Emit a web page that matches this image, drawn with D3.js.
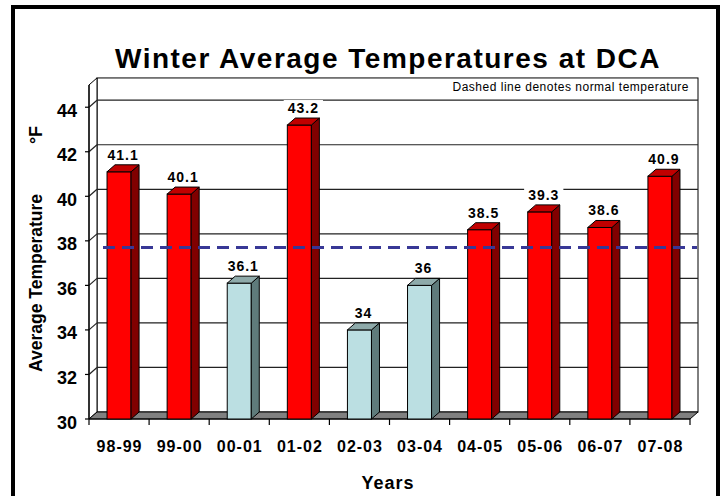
<!DOCTYPE html>
<html>
<head>
<meta charset="utf-8">
<script src="https://cdn.jsdelivr.net/npm/d3@7"></script>
<style>
  html, body { margin: 0; padding: 0; background: #fff; }
  svg { display: block; font-family: "Liberation Sans", Arial, sans-serif; }
</style>
</head>
<body>
<svg class="chart" width="721" height="496"></svg>
<script>
// data
var seasons = ["98-99", "99-00", "00-01", "01-02", "02-03", "03-04", "04-05", "05-06", "06-07", "07-08"];
var temps = [41.1, 40.1, 36.1, 43.2, 34, 36, 38.5, 39.3, 38.6, 40.9];
var normalTemp = 37.7;
var yTicks = [30, 32, 34, 36, 38, 40, 42, 44];

var svg = d3.select(".chart");

// 3d depth offset
var dx = 8, dy = -7;
var left = 89, right = 690, bottom = 419;

var x = d3.scaleBand()
  .domain(seasons)
  .range([left, right])
  .paddingInner(0.6)
  .paddingOuter(0.3);

var y = d3.scaleLinear()
  .domain([30, 45])
  .range([bottom, bottom - 15 * 22.27]);

// outer frame
svg.append("rect")
  .attr("x", 13).attr("y", 7)
  .attr("width", 705).attr("height", 520)
  .attr("fill", "none")
  .attr("stroke", "#000")
  .attr("stroke-width", 4);

// title
svg.append("text")
  .attr("x", 388).attr("y", 68)
  .attr("text-anchor", "middle")
  .attr("font-size", 28)
  .attr("font-weight", "bold")
  .attr("letter-spacing", 1.5)
  .text("Winter Average Temperatures at DCA");

var plot = svg.append("g");

// back wall
plot.append("rect")
  .attr("x", left + dx).attr("y", y(45) + dy)
  .attr("width", right - left).attr("height", y(30) - y(45))
  .attr("fill", "#fff")
  .attr("stroke", "#000")
  .attr("stroke-width", 1);

// left side wall
plot.append("path")
  .attr("d", "M" + [left, y(30)] + "L" + [left, y(45)] + "L" + [left + dx, y(45) + dy] + "L" + [left + dx, y(30) + dy] + "Z")
  .attr("fill", "#fff")
  .attr("stroke", "#000")
  .attr("stroke-width", 1);

// gridlines on back wall and side wall
yTicks.forEach(function (t) {
  if (t === 30) return;
  plot.append("line")
    .attr("x1", left + dx).attr("x2", right + dx)
    .attr("y1", y(t) + dy).attr("y2", y(t) + dy)
    .attr("stroke", "#222").attr("stroke-width", 1.2);
  plot.append("line")
    .attr("x1", left).attr("x2", left + dx)
    .attr("y1", y(t)).attr("y2", y(t) + dy)
    .attr("stroke", "#222").attr("stroke-width", 1.2);
});

// floor
plot.append("path")
  .attr("d", "M" + [left, y(30)] + "L" + [right, y(30)] + "L" + [right + dx, y(30) + dy] + "L" + [left + dx, y(30) + dy] + "Z")
  .attr("fill", "#808080")
  .attr("stroke", "#000")
  .attr("stroke-width", 1);

// front axis line + ticks
plot.append("line")
  .attr("x1", left).attr("x2", left)
  .attr("y1", y(45)).attr("y2", y(30))
  .attr("stroke", "#000").attr("stroke-width", 1.2);

plot.selectAll(".ytick")
  .data(yTicks)
  .enter().append("line")
  .attr("x1", left - 4).attr("x2", left)
  .attr("y1", function (d) { return y(d); })
  .attr("y2", function (d) { return y(d); })
  .attr("stroke", "#000").attr("stroke-width", 1.2);

plot.append("line")
  .attr("x1", left).attr("x2", right)
  .attr("y1", bottom).attr("y2", bottom)
  .attr("stroke", "#000").attr("stroke-width", 1.2);

var xTickPos = seasons.map(function (s) { return x(s) - x.step() * 0.3; }).concat([right]);
plot.selectAll(".xtick")
  .data(xTickPos)
  .enter().append("line")
  .attr("x1", function (d) { return d; })
  .attr("x2", function (d) { return d; })
  .attr("y1", bottom).attr("y2", bottom + 6)
  .attr("stroke", "#000").attr("stroke-width", 1.2);

// y tick labels
svg.selectAll(".ylab")
  .data(yTicks)
  .enter().append("text")
  .attr("x", 77)
  .attr("y", function (d) { return y(d) + 9.5; })
  .attr("text-anchor", "end")
  .attr("font-size", 18)
  .attr("font-weight", "bold")
  .text(function (d) { return d; });

// x labels
svg.selectAll(".xlab")
  .data(seasons)
  .enter().append("text")
  .attr("x", function (d) { return x(d) + x.bandwidth() / 2 + 0.5; })
  .attr("y", 452)
  .attr("text-anchor", "middle")
  .attr("font-size", 16)
  .attr("font-weight", "bold")
  .attr("letter-spacing", 1)
  .text(function (d) { return d; });

// bars
var barData = seasons.map(function (s, i) { return {season: s, value: temps[i]}; });
function colorsFor(v) {
  return v < normalTemp
    ? {front: "#BBDFE2", side: "#5F7B7B", top: "#8EAAAA"}
    : {front: "#FF0000", side: "#800000", top: "#C00000"};
}

var bars = plot.selectAll(".bar")
  .data(barData)
  .enter().append("g")
  .attr("class", "bar");

bars.each(function (d) {
  var g = d3.select(this);
  var c = colorsFor(d.value);
  var x0 = x(d.season), x1 = x0 + x.bandwidth();
  var yt = y(d.value), yb = y(30);
  g.append("rect")
    .attr("x", x0).attr("y", yt)
    .attr("width", x1 - x0).attr("height", yb - yt)
    .attr("fill", c.front).attr("stroke", "#000").attr("stroke-width", 1);
  g.append("path")
    .attr("d", "M" + [x1, yb] + "L" + [x1, yt] + "L" + [x1 + dx, yt + dy] + "L" + [x1 + dx, yb + dy] + "Z")
    .attr("fill", c.side).attr("stroke", "#000").attr("stroke-width", 1);
  g.append("path")
    .attr("d", "M" + [x0, yt] + "L" + [x1, yt] + "L" + [x1 + dx, yt + dy] + "L" + [x0 + dx, yt + dy] + "Z")
    .attr("fill", c.top).attr("stroke", "#000").attr("stroke-width", 1);
});

// normal temperature dashed line
plot.append("line")
  .attr("x1", left + 14).attr("x2", right + dx - 1)
  .attr("y1", y(normalTemp)).attr("y2", y(normalTemp))
  .attr("stroke", "#383896")
  .attr("stroke-width", 3)
  .attr("stroke-dasharray", "12,7");

// value labels
var labels = svg.selectAll(".vlab")
  .data(barData)
  .enter().append("g");

labels.each(function (d) {
  var g = d3.select(this);
  var cx = x(d.season) + x.bandwidth() / 2 + dx / 2;
  var by = y(d.value) + dy - 5;
  var t = g.append("text")
    .attr("x", cx).attr("y", by)
    .attr("text-anchor", "middle")
    .attr("font-size", 14)
    .attr("font-weight", "bold")
    .attr("letter-spacing", 1)
    .text(d.value);
  var bb = t.node().getBBox();
  g.insert("rect", "text")
    .attr("x", bb.x - 4).attr("y", bb.y)
    .attr("width", bb.width + 8).attr("height", bb.height)
    .attr("fill", "#fff");
});

// note
svg.append("text")
  .attr("x", 689).attr("y", 91)
  .attr("text-anchor", "end")
  .attr("font-size", 12)
  .attr("letter-spacing", 0.5)
  .text("Dashed line denotes normal temperature");

// axis titles
svg.append("text")
  .attr("transform", "translate(42,283) rotate(-90)")
  .attr("text-anchor", "middle")
  .attr("font-size", 17.5)
  .attr("font-weight", "bold")
  .text("Average Temperature");

svg.append("text")
  .attr("transform", "translate(42,135) rotate(-90)")
  .attr("text-anchor", "middle")
  .attr("font-size", 18)
  .attr("font-weight", "bold")
  .text("°F");

svg.append("text")
  .attr("x", 388).attr("y", 489)
  .attr("text-anchor", "middle")
  .attr("font-size", 18)
  .attr("font-weight", "bold")
  .attr("letter-spacing", 1)
  .text("Years");
</script>
</body>
</html>
